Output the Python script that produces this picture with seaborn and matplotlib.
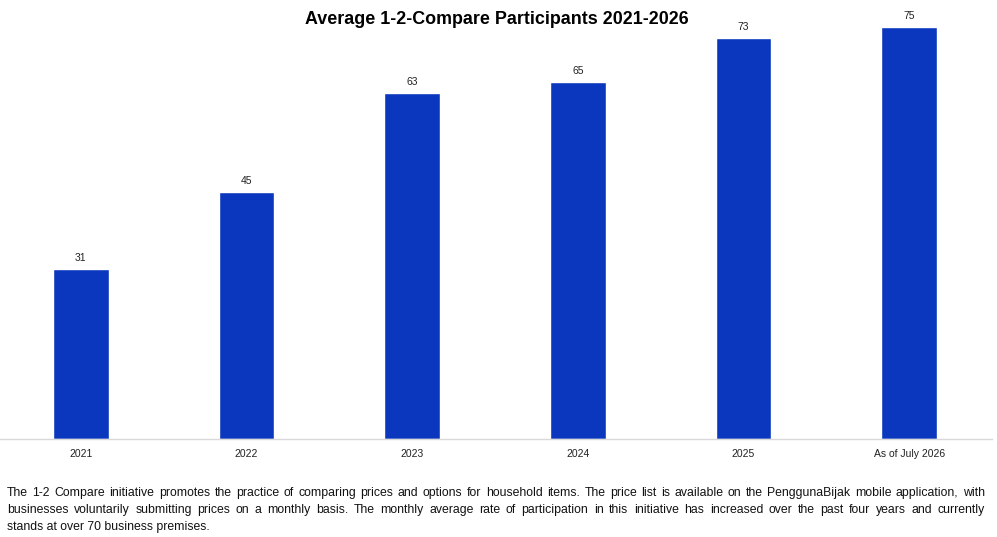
import matplotlib.pyplot as plt
import seaborn as sns
import pandas as pd

categories = ['2021', '2022', '2023', '2024', '2025', 'As of July 2026']
participants = [31, 45, 63, 65, 73, 75]

note_lines = [
    'The 1-2 Compare initiative promotes the practice of comparing prices and options for household items. '
    'The price list is available on the PenggunaBijak mobile application, with',
    'businesses voluntarily submitting prices on a monthly basis. The monthly average rate of participation '
    'in this initiative has increased over the past four years and currently',
    'stands at over 70 business premises.',
]

df = pd.DataFrame({'year': categories, 'participants': participants})

sns.set_style('white')
plt.rcParams['font.family'] = ['Liberation Sans', 'DejaVu Sans']

fig = plt.figure(figsize=(9.97, 5.37), dpi=100)
ax = fig.add_axes([-2 / 997, 98 / 537, 994 / 997, 412 / 537])

sns.barplot(data=df, x='year', y='participants', order=categories,
            color='#0a37be', saturation=1, width=0.335, ax=ax)
ax.set_ylim(0, 75)
ax.set_xlim(-0.5, 5.5)

for i, v in enumerate(participants):
    ax.annotate(str(v), (i, v), xytext=(0, 4), textcoords='offset points',
                ha='center', va='bottom', fontsize=7.5, color='#222222',
                annotation_clip=False)

ax.set_xlabel('')
ax.set_ylabel('')
ax.set_yticks([])
ax.tick_params(axis='x', length=0, labelsize=7.5, pad=7, colors='#222222')
for s in ['top', 'right', 'left']:
    ax.spines[s].set_visible(False)
ax.spines['bottom'].set_color('#d9d9d9')
ax.spines['bottom'].set_linewidth(1)

fig.text(0.498, 1 - 20 / 537, 'Average 1-2-Compare Participants 2021-2026',
         ha='center', va='center', fontsize=12.9, fontweight='bold', color='black')

# note below the chart, justified to the width used in the original
renderer = fig.canvas.get_renderer()
x0, x1 = 7, 985
fs = 9.0
probe = fig.text(0, 0, note_lines[0], fontsize=fs)
w = probe.get_window_extent(renderer).width
probe.remove()
fs = fs * (x1 - x0) / w * 0.97

for k, line in enumerate(note_lines):
    y = 1 - (493 + k * 17) / 537
    words = line.split(' ')
    if k == len(note_lines) - 1:
        fig.text(x0 / 997, y, line, ha='left', va='center', fontsize=fs, color='#111111')
        continue
    widths = []
    for wd in words:
        t = fig.text(0, 0, wd, fontsize=fs)
        widths.append(t.get_window_extent(renderer).width)
        t.remove()
    gap = (x1 - x0 - sum(widths)) / (len(words) - 1)
    x = x0
    for wd, ww in zip(words, widths):
        fig.text(x / 997, y, wd, ha='left', va='center', fontsize=fs, color='#111111')
        x += ww + gap

plt.savefig('out.png', dpi=100)
